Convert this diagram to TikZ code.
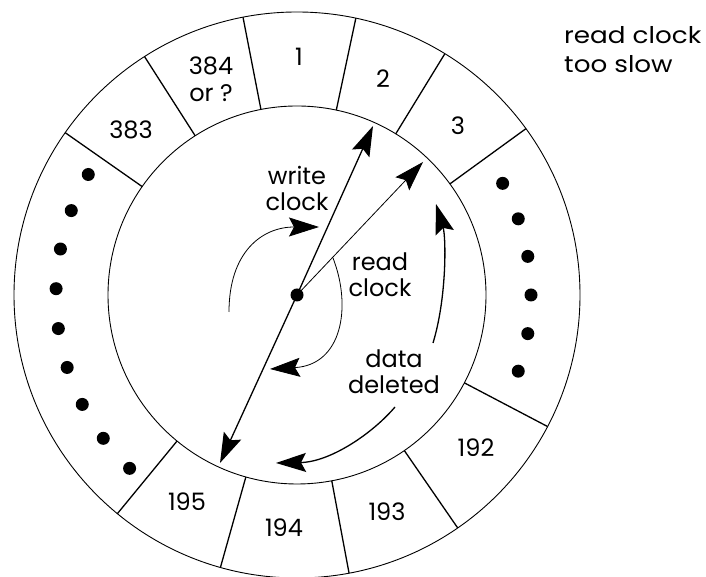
\documentclass[tikz,border=0pt]{standalone}
\usepackage{fontspec}
\setmainfont{Poppins}
\newfontfamily\widefont[FakeStretch=1.14]{Poppins}
\usetikzlibrary{arrows.meta}

\begin{document}
\begin{tikzpicture}[
    x=1pt, y=1pt,
    ring/.style={draw, line width=0.9pt},
    divider/.style={draw, line width=1.3pt},
    cell/.style={font=\fontsize{24}{27}\selectfont, align=center, inner sep=0pt},
    lbl/.style={font=\fontsize{24}{26}\selectfont, align=center, inner sep=0pt},
    blob/.style={circle, fill=black, inner sep=0pt, minimum size=13pt},
    tip/.style={-{Stealth[length=30pt, width=19pt, inset=5pt]}},
    arrow/.style={tip, line width=1.3pt},
    thinarrow/.style={tip, line width=0.8pt}
]
    \useasboundingbox (0,0) rectangle (706,577);

    % Ring buffer
    \node (hub) [blob] at (297,282) {};
    \draw [ring] (hub.center) circle (283);
    \draw [ring] (hub.center) circle (189);
    \foreach \a in {101,78,58.5,36,-27.7,-55.4,-79.4,-105.7,-129.4,145,122.6}
        \draw [divider, shift={(297,282)}] (\a:189) -- (\a:283);

    % Cell numbers
    \node (c1) [cell] at (299,520) {1};
    \node (c2) [cell] at (383,498) {2};
    \node (c3) [cell] at (458,451) {3};
    \node (c384) [cell] at (211,498) {384\\or ?};
    \node (c383) [cell] at (131,447) {383};
    \node (c195) [cell] at (187,75) {195};
    \node (c194) [cell] at (284,49) {194};
    \node (c193) [cell] at (387,65) {193};
    \node (c192) [cell] at (476,129) {192};

    % Skipped cells
    \foreach \i [evaluate=\i as \a using 150+9.5*\i] in {0,...,8}
        \node (dl\i) [blob, shift={(297,282)}] at (\a:241) {};
    \foreach \i [evaluate=\i as \a using 28.5-9.5*\i] in {0,...,5}
        \node (dr\i) [blob, shift={(297,282)}] at (\a:234) {};

    % Labels
    \node (wclk) [lbl] at (297,389) {write\\clock};
    \node (rclk) [lbl] at (380,302) {read\\clock};
    \node (del) [lbl] at (394,205) {data\\deleted};
    \node (slow) [lbl, anchor=west, align=left, font=\widefont\fontsize{23}{29}\selectfont] at (564,527) {read clock\\too slow};

    % Pointers
    \coordinate (wtop) at (373,451);
    \coordinate (wbot) at (220,114);
    \coordinate (rtop) at (423,415);
    \draw [arrow] (hub.center) -- (wtop);
    \draw [arrow] (hub.center) -- (wbot);
    \draw [thinarrow] (hub.center) -- (rtop);

    % Rotation arrows
    \coordinate (ws) at (229,265);
    \coordinate (we) at (319,350);
    \draw [thinarrow] (ws) .. controls (229,325) and (262,350) .. (we);
    \coordinate (rs) at (333,319);
    \coordinate (re) at (270,208);
    \draw [thinarrow] (rs) .. controls (352,270) and (342,212) .. (re);
    \coordinate (us) at (433,234);
    \coordinate (ue) at (436,373);
    \draw [arrow] (us) .. controls (447,280) and (446,340) .. (ue);
    \coordinate (ds) at (395,170);
    \coordinate (de) at (276,114);
    \draw [arrow] (ds) .. controls (372,143) and (330,115) .. (de);
\end{tikzpicture}
\end{document}
